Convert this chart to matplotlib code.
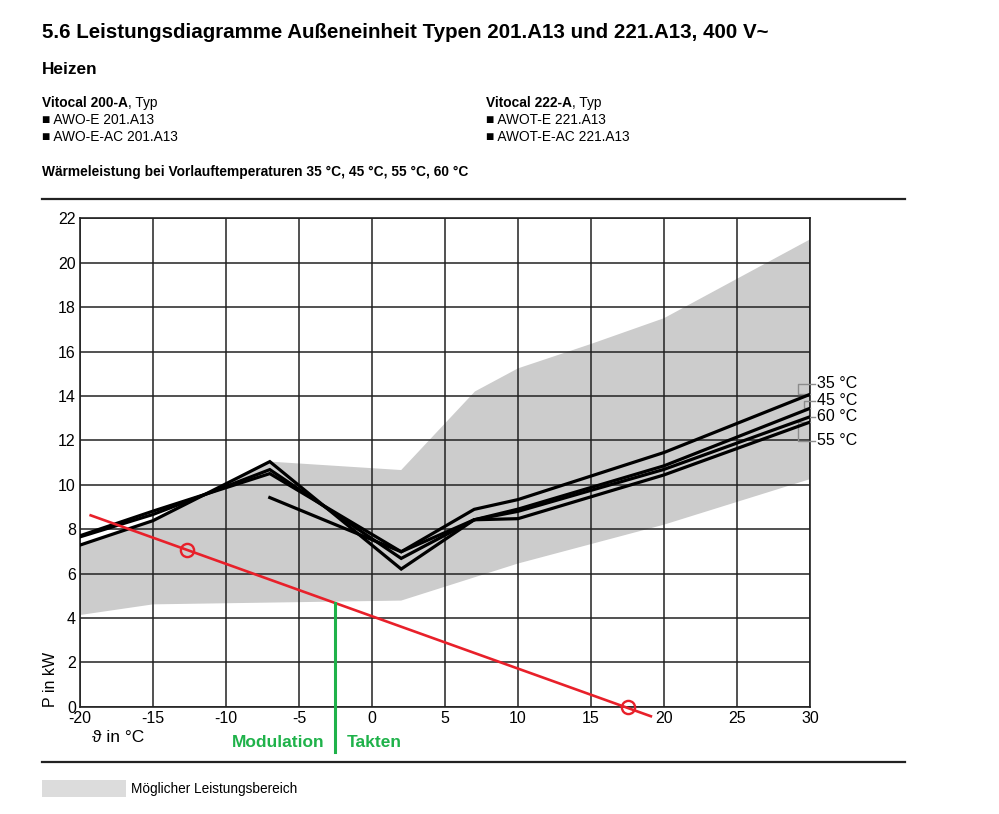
import matplotlib
matplotlib.use('Agg')
import matplotlib.pyplot as plt

plt.rcParams['font.family'] = ['Liberation Sans', 'DejaVu Sans']
plt.rcParams['axes.unicode_minus'] = False

# outside temperature nodes and heat output (kW) per flow temperature
x_full = [-20, -15, -7, 2, 7, 10, 20, 30]
p_35 = [7.70, 8.81, 10.50, 6.98, 8.89, 9.33, 11.45, 14.07]
p_45 = [7.28, 8.38, 11.04, 6.20, 8.42, 8.90, 10.85, 13.44]
p_55 = [7.65, 8.66, 10.68, 6.68, 8.42, 8.47, 10.44, 12.82]
x_60 = [-7, 2, 7, 10, 20, 30]
p_60 = [9.42, 6.98, 8.42, 8.80, 10.69, 13.06]

# possible output range (grey band)
band_x_top = [-20, -15, -7, 2, 7.05, 10, 15, 20, 30]
band_top = [7.28, 8.38, 11.04, 10.66, 14.2, 15.24, 16.34, 17.5, 21.05]
band_x_bot = [-20, -15, 2, 10, 20, 30]
band_bot = [4.13, 4.61, 4.78, 6.45, 8.2, 10.25]

# building heat load line and its marked points
load_x = [-19.27, 19.1]
load_p = [8.62, -0.43]
mark_x = [-12.65, 17.53]
mark_p = [7.06, 0.0]
switch_x = -2.53
switch_p = 4.68

x_ticks = list(range(-20, 31, 5))
y_ticks = list(range(0, 23, 2))

W, H = 999, 814
fig = plt.figure(figsize=(W / 100, H / 100), dpi=100)


def fx(px):
    return px / W


def fy(py):
    return 1 - py / H


ax = fig.add_axes([fx(80), fy(706.7), 730 / W, 488.4 / H])
ax.set_xlim(-20, 30)
ax.set_ylim(0, 22)

ax.fill(band_x_top + band_x_bot[::-1], band_top + band_bot[::-1],
        color='#cccccc', lw=0, zorder=1)

ax.set_xticks(x_ticks)
ax.set_yticks(y_ticks)
ax.grid(True, color='#222222', lw=1.1, zorder=2)
ax.set_axisbelow(False)
ax.tick_params(length=0, labelsize=11.5, pad=3)
for s in ax.spines.values():
    s.set_linewidth(1.2)
    s.set_color('#222222')

for xs, ys in [(x_full, p_35), (x_full, p_45), (x_full, p_55), (x_60, p_60)]:
    ax.plot(xs, ys, color='black', lw=2.3, zorder=4, solid_joinstyle='miter')

ax.plot(load_x, load_p, color='#e8202a', lw=1.9, zorder=5, clip_on=False)
ax.plot(mark_x, mark_p, 'o', ms=9.5, mfc='none', mec='#e8202a', mew=1.7,
        zorder=6, clip_on=False)
ax.plot([switch_x, switch_x], [switch_p, -2.05], color='#1fb24a', lw=2.2,
        zorder=5, clip_on=False)

# leader brackets for flow temperature labels
lc = '#8c8c8c'
brackets = [
    ([30.0, 29.2, 29.2, 30.35], [14.07, 14.07, 14.54, 14.54]),
    ([30.0, 29.6, 29.6, 30.35], [13.44, 13.44, 13.78, 13.78]),
    ([30.0, 30.35], [13.06, 13.06]),
    ([30.0, 29.2, 29.2, 30.35], [12.82, 12.82, 11.97, 11.97]),
]
for bx, by in brackets:
    ax.plot(bx, by, color=lc, lw=1.0, zorder=3, clip_on=False)
for lab, ly in zip(['35 °C', '45 °C', '60 °C', '55 °C'], [14.54, 13.78, 13.06, 11.97]):
    ax.text(30.45, ly, lab, fontsize=11.5, va='center', ha='left')

ax.text(-22.05, 0, 'P in kW', rotation=90, fontsize=11.5, ha='center', va='bottom')
ax.text(-19.2, -1.4, 'ϑ in °C', fontsize=12.5, ha='left', va='center')
ax.text(switch_x - 0.7, -1.6, 'Modulation', color='#1fb24a', fontsize=12.5,
        fontweight='bold', ha='right', va='center')
ax.text(switch_x + 0.8, -1.6, 'Takten', color='#1fb24a', fontsize=12.5,
        fontweight='bold', ha='left', va='center')

# header texts
fig.text(fx(42), fy(33), '5.6 Leistungsdiagramme Außeneinheit Typen 201.A13 und 221.A13, 400 V~',
         fontsize=14.8, fontweight='bold', va='center')
fig.text(fx(42), fy(70), 'Heizen', fontsize=12.4, fontweight='bold', va='center')

renderer = fig.canvas.get_renderer()
for x0, head, items in [(42, 'Vitocal 200-A', ['AWO-E 201.A13', 'AWO-E-AC 201.A13']),
                        (486, 'Vitocal 222-A', ['AWOT-E 221.A13', 'AWOT-E-AC 221.A13'])]:
    t = fig.text(fx(x0), fy(103), head, fontsize=9.9, fontweight='bold', va='center')
    bb = t.get_window_extent(renderer)
    fig.text(bb.x1 / W, fy(103), ', Typ', fontsize=9.9, va='center')
    for i, it in enumerate(items):
        fig.text(fx(x0), fy(120 + 17 * i), '■ ' + it, fontsize=9.9, va='center')

fig.text(fx(42), fy(172), 'Wärmeleistung bei Vorlauftemperaturen 35 °C, 45 °C, 55 °C, 60 °C',
         fontsize=9.9, fontweight='bold', va='center')

fig.add_artist(plt.Line2D([fx(42), fx(905)], [fy(199), fy(199)], color='#222222', lw=1.6))
fig.add_artist(plt.Line2D([fx(42), fx(905)], [fy(762), fy(762)], color='#222222', lw=1.6))
fig.add_artist(plt.Rectangle((fx(42), fy(797)), 84 / W, 17 / H, color='#dcdcdc', lw=0))
fig.text(fx(131), fy(788.5), 'Möglicher Leistungsbereich', fontsize=9.85, va='center')

fig.savefig('out.png', dpi=100)
